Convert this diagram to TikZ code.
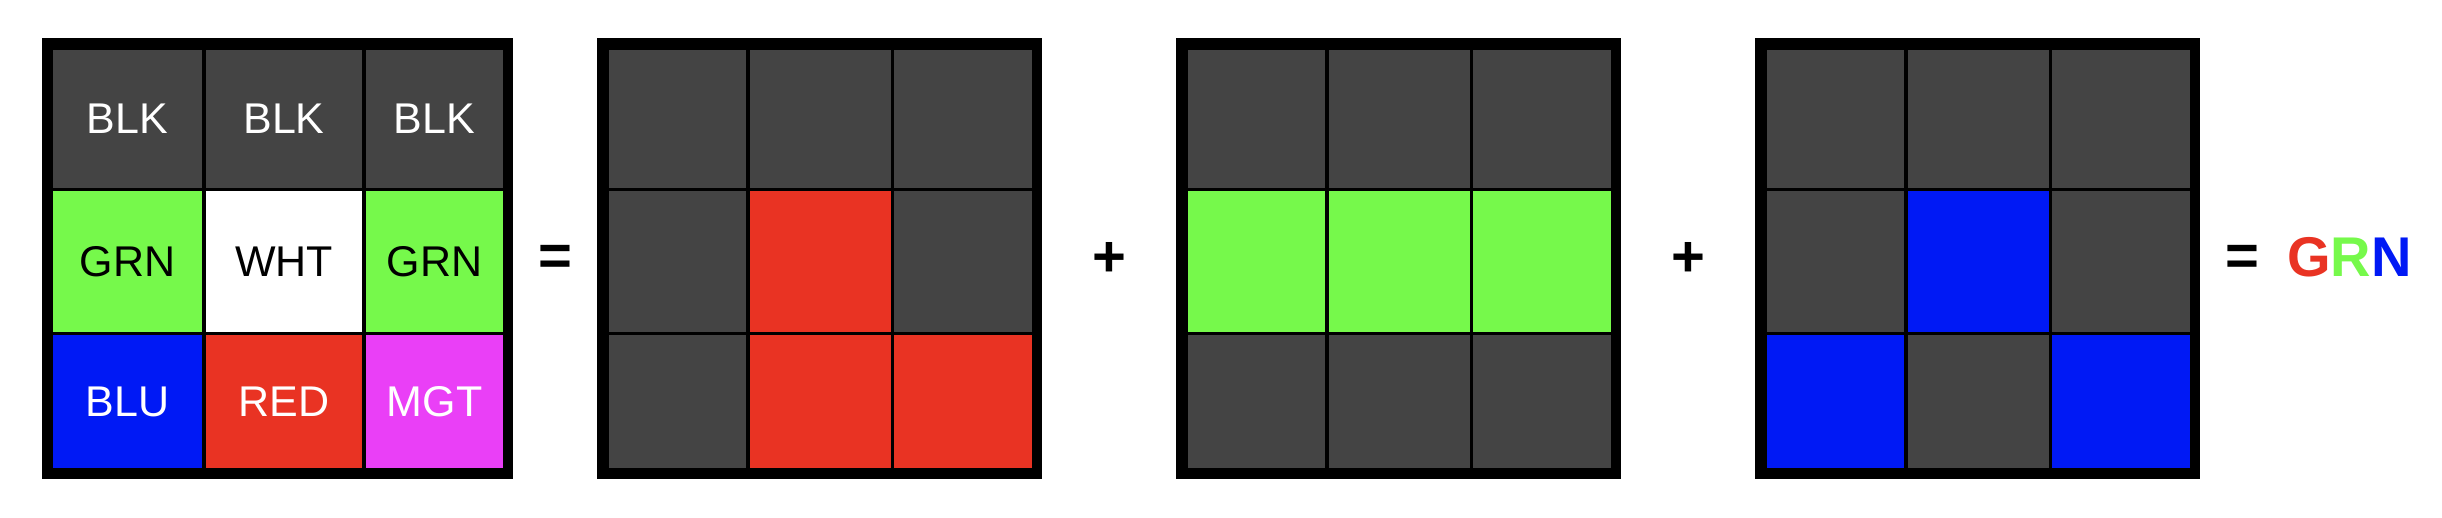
\documentclass[tikz,border=0pt]{standalone}
\usepackage{fontspec}
\setmainfont{Liberation Sans}
\definecolor{blk}{RGB}{68,68,68}
\definecolor{green}{RGB}{118,249,75}
\definecolor{blue}{RGB}{0,25,245}
\definecolor{red}{RGB}{233,51,35}
\definecolor{magenta}{RGB}{234,63,247}
\tikzset{
  cell/.style = {rectangle, inner sep=0pt, outer sep=0pt,
    font=\fontsize{43}{50}\selectfont},
  operator/.style = {anchor=base, inner sep=0pt,
    font=\fontsize{58}{60}\selectfont\bfseries}
}

\begin{document}
\begin{tikzpicture}[x=1pt,y=-1pt]
  \useasboundingbox (0,0) rectangle (2442,518);
  % frames
  \foreach \xa/\xb in {42/513, 597/1042, 1176/1621, 1755/2200}
    \fill[black] (\xa,38) rectangle (\xb,479);
  % colour table
  \foreach \n/\x/\y/\w/\h/\bg/\fg/\txt in {
      t11/127.5/119/149/138/blk/white/BLK,
      t12/284/119/156/138/blk/white/BLK,
      t13/434.5/119/137/138/blk/white/BLK,
      t21/127.5/261.5/149/141/green/black/GRN,
      t22/284/261.5/156/141/white/black/WHT,
      t23/434.5/261.5/137/141/green/black/GRN,
      t31/127.5/401.5/149/133/blue/white/BLU,
      t32/284/401.5/156/133/red/white/RED,
      t33/434.5/401.5/137/133/magenta/white/MGT}
    \node[cell, fill=\bg, text=\fg, minimum width=\w pt, minimum height=\h pt] (\n) at (\x,\y) {\txt};
  % channels
  \foreach \g/\dx/\fills in {
      r/0/{blk,blk,blk,blk,red,blk,blk,red,red},
      g/579/{blk,blk,blk,green,green,green,blk,blk,blk},
      b/1158/{blk,blk,blk,blk,blue,blk,blue,blk,blue}}
    \foreach \f [count=\i from 0] in \fills {
      \pgfmathtruncatemacro\row{div(\i,3)}
      \pgfmathtruncatemacro\col{mod(\i,3)}
      \pgfmathsetmacro\x{\dx+{677.5,820.5,963}[\col]}
      \pgfmathsetmacro\w{{137,141,138}[\col]}
      \pgfmathsetmacro\y{{119,261.5,401.5}[\row]}
      \pgfmathsetmacro\h{{138,141,133}[\row]}
      \node[cell, fill=\f, minimum width=\w pt, minimum height=\h pt] (\g\row\col) at (\x,\y) {};
    }
  % operators
  \node[operator] (eq1) at (555.5,276) {=};
  \node[operator] (plus1) at (1109,277) {+};
  \node[operator] (plus2) at (1688,277) {+};
  \node[operator] (eq2) at (2242,276) {=};
  \node[font=\fontsize{56}{60}\selectfont\bfseries] (sum) at (2349.5,257)
    {\color{red}G\color{green}R\color{blue}N};
\end{tikzpicture}
\end{document}
